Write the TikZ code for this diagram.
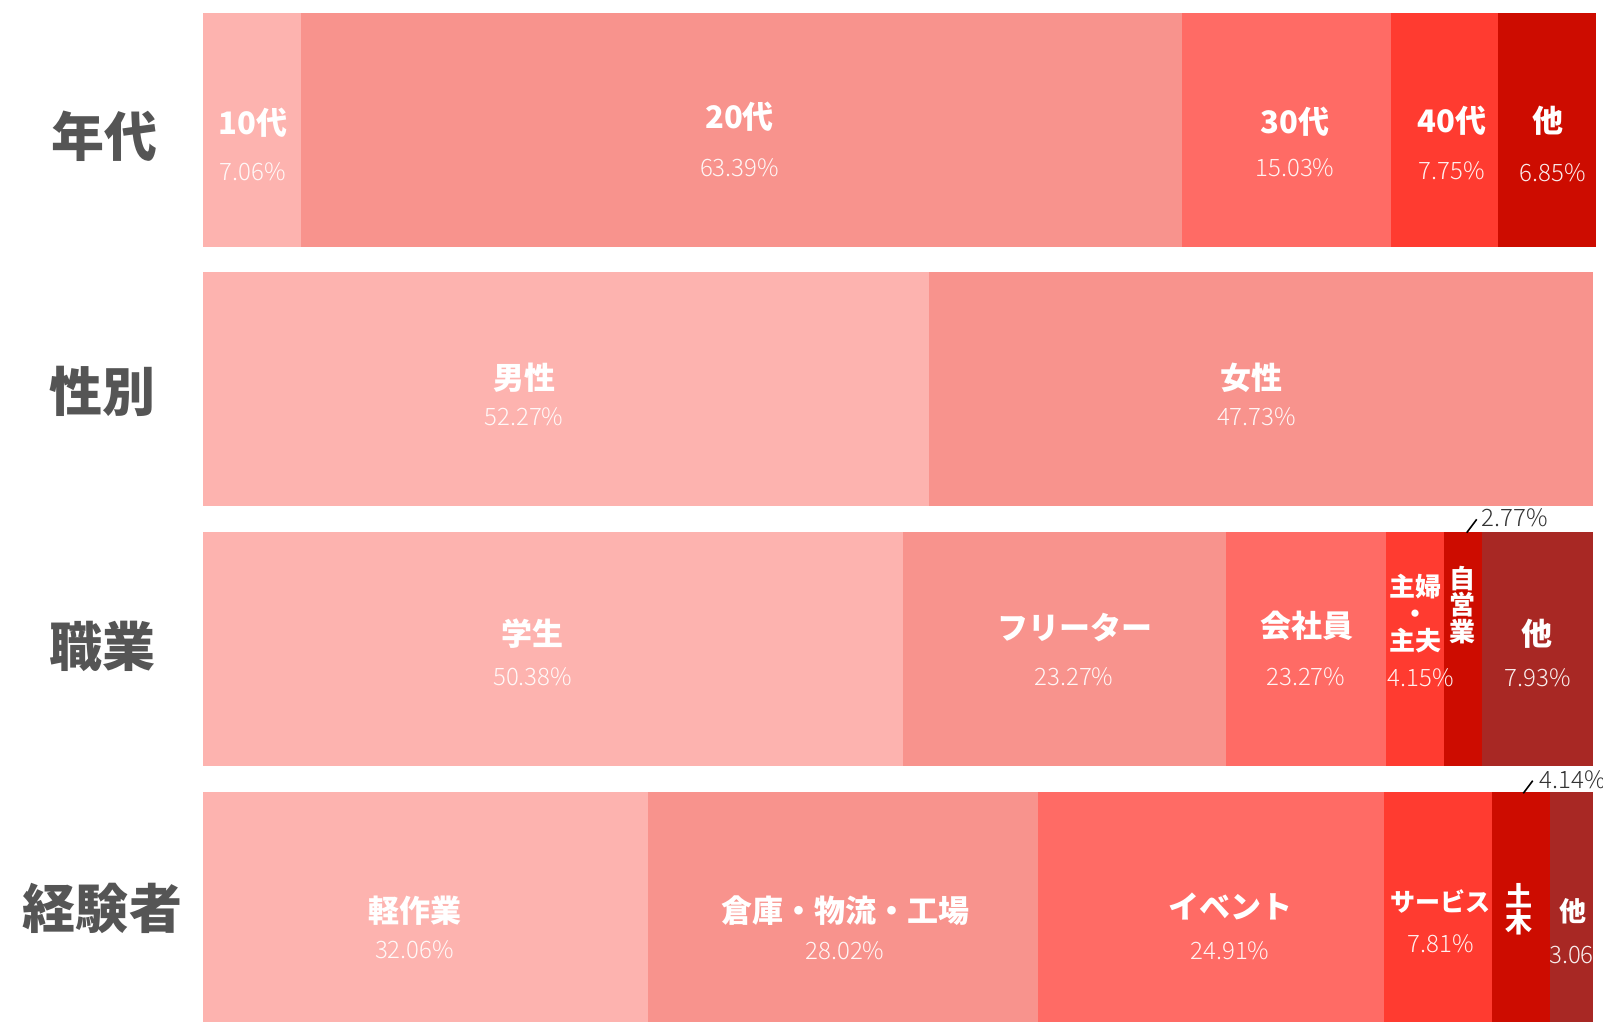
\documentclass[tikz,border=0pt]{standalone}
\usepackage{fontspec}
\setmainfont{Noto Sans CJK JP}
\IfFontExistsTF{Noto Sans CJK JP Light}{\newfontfamily\pctfont{Noto Sans CJK JP Light}}{\newfontfamily\pctfont{Noto Sans CJK JP}}
\definecolor{cA}{HTML}{FDB3AF}
\definecolor{cB}{HTML}{F8938D}
\definecolor{cC}{HTML}{FF6B65}
\definecolor{cD}{HTML}{FF3B30}
\definecolor{cE}{HTML}{CD0C00}
\definecolor{cF}{HTML}{A82824}
\definecolor{labgray}{HTML}{555555}
\definecolor{leadgray}{HTML}{333333}
\begin{document}
\begin{tikzpicture}[x=1pt,y=-1pt,
  lab/.style={text=white, font=\fontsize{31}{31}\selectfont\bfseries, inner sep=0pt, anchor=center},
  smalllab/.style={text=white, font=\fontsize{#1}{#1}\selectfont\bfseries, inner sep=0pt, anchor=center},
  stacklab/.style={text=white, align=center, inner sep=0pt, anchor=center},
  pct/.style={text=white, text opacity=0.92, font=\fontsize{24}{24}\pctfont, inner sep=0pt, anchor=base},
  leadpct/.style={text=leadgray, font=\fontsize{24}{24}\pctfont, inner sep=0pt, anchor=base west},
  rowlab/.style={text=labgray, font=\fontsize{53}{53}\selectfont\bfseries, inner sep=0pt, anchor=center},
  leader/.style={draw=black, line width=1.6pt}]
\useasboundingbox (0,0) rectangle (1603,1021);
\clip (0,0) rectangle (1603,1021);
\fill[white] (0,0) rectangle (1603,1021);

% ---- row 1: 年代
\fill[cA] (202.8,12.7) rectangle (301.2,246.7);
\fill[cB] (301.2,12.7) rectangle (1182,246.7);
\fill[cC] (1182,12.7) rectangle (1391,246.7);
\fill[cD] (1391,12.7) rectangle (1498,246.7);
\fill[cE] (1498,12.7) rectangle (1596,246.7);

% ---- row 2: 性別
\fill[cA] (202.8,272) rectangle (929,505.7);
\fill[cB] (929,272) rectangle (1592.8,505.7);

% ---- row 3: 職業
\fill[cA] (202.8,531.7) rectangle (902.7,765.7);
\fill[cB] (902.7,531.7) rectangle (1226,765.7);
\fill[cC] (1226,531.7) rectangle (1385.7,765.7);
\fill[cD] (1385.7,531.7) rectangle (1444,765.7);
\fill[cE] (1444,531.7) rectangle (1482,765.7);
\fill[cF] (1482,531.7) rectangle (1592.8,765.7);

% ---- row 4: 経験者
\fill[cA] (202.8,791.7) rectangle (648,1025.7);
\fill[cB] (648,791.7) rectangle (1037.8,1025.7);
\fill[cC] (1037.8,791.7) rectangle (1384,1025.7);
\fill[cD] (1384,791.7) rectangle (1492.3,1025.7);
\fill[cE] (1492.3,791.7) rectangle (1550,1025.7);
\fill[cF] (1550,791.7) rectangle (1592.8,1025.7);

% ---- row labels
\node[rowlab] (r1) at (104,136) {年代};
\node[rowlab] (r2) at (102.5,391.7) {性別};
\node[rowlab] (r3) at (102.5,646.7) {職業};
\node[rowlab] (r4) at (102.5,908) {経験者};

% ---- row 1 texts
\node[lab] (a1) at (253,122.5) {10代};
\node[pct] (a1p) at (253,180) {7.06\%};
\node[lab] (a2) at (739.5,116.7) {20代};
\node[pct] (a2p) at (739.5,176) {63.39\%};
\node[lab] (a3) at (1295,121.7) {30代};
\node[pct] (a3p) at (1295,176.7) {15.03\%};
\node[lab] (a4) at (1451.7,120.8) {40代};
\node[pct] (a4p) at (1451.8,179.3) {7.75\%};
\node[lab] (a5) at (1548,120.5) {他};
\node[pct] (a5p) at (1552.5,181.7) {6.85\%};

% ---- row 2 texts
\node[lab] (b1) at (524,377.5) {男性};
\node[pct] (b1p) at (524,425) {52.27\%};
\node[lab] (b2) at (1251,377.5) {女性};
\node[pct] (b2p) at (1256.5,425) {47.73\%};

% ---- row 3 texts
\node[lab] (c1) at (532.6,633.8) {学生};
\node[pct] (c1p) at (532.6,685) {50.38\%};
\node[lab] (c2) at (1075,627.5) {フリーター};
\node[pct] (c2p) at (1074,685) {23.27\%};
\node[lab] (c3) at (1306.7,625.8) {会社員};
\node[pct] (c3p) at (1305.8,685) {23.27\%};
\node[stacklab, font=\fontsize{26}{27}\selectfont\bfseries] (c4) at (1415.3,614) {主婦\\・\\主夫};
\node[pct] (c4p) at (1421,686.7) {4.15\%};
\node[stacklab, font=\fontsize{26}{26.5}\selectfont\bfseries] (c5) at (1462,605) {自\\営\\業};
\node[lab] (c6) at (1536.7,634) {他};
\node[pct] (c6p) at (1537.5,686.7) {7.93\%};
\node[leadpct] (c5p) at (1481.7,526.7) {2.77\%};
\coordinate (c5a) at (1466.7,532.7);
\coordinate (c5b) at (1476.7,519.3);
\draw[leader] (c5a) -- (c5b);

% ---- row 4 texts
\node[lab] (d1) at (414.5,910.8) {軽作業};
\node[pct] (d1p) at (414.5,958.3) {32.06\%};
\node[lab] (d2) at (845,911) {倉庫・物流・工場};
\node[pct] (d2p) at (845,959.3) {28.02\%};
\node[lab] (d3) at (1230,906.7) {イベント};
\node[pct] (d3p) at (1230,959.3) {24.91\%};
\node[smalllab=25] (d4) at (1440.8,901.3) {サービス};
\node[pct] (d4p) at (1440.8,952.7) {7.81\%};
\node[stacklab, font=\fontsize{27}{26}\selectfont\bfseries] (d5) at (1519,908.8) {土\\木};
\node[smalllab=27] (d6) at (1573.2,911.7) {他};
\begin{scope}
  \clip (1550,791.7) rectangle (1592.8,1021);
  \node[pct, anchor=base west] (d6p) at (1549,963.3) {3.06\%};
\end{scope}
\node[leadpct] (d5p) at (1539.3,788.3) {4.14\%};
\coordinate (d5a) at (1523.3,793.3);
\coordinate (d5b) at (1532.7,780.7);
\draw[leader] (d5a) -- (d5b);
\end{tikzpicture}
\end{document}
